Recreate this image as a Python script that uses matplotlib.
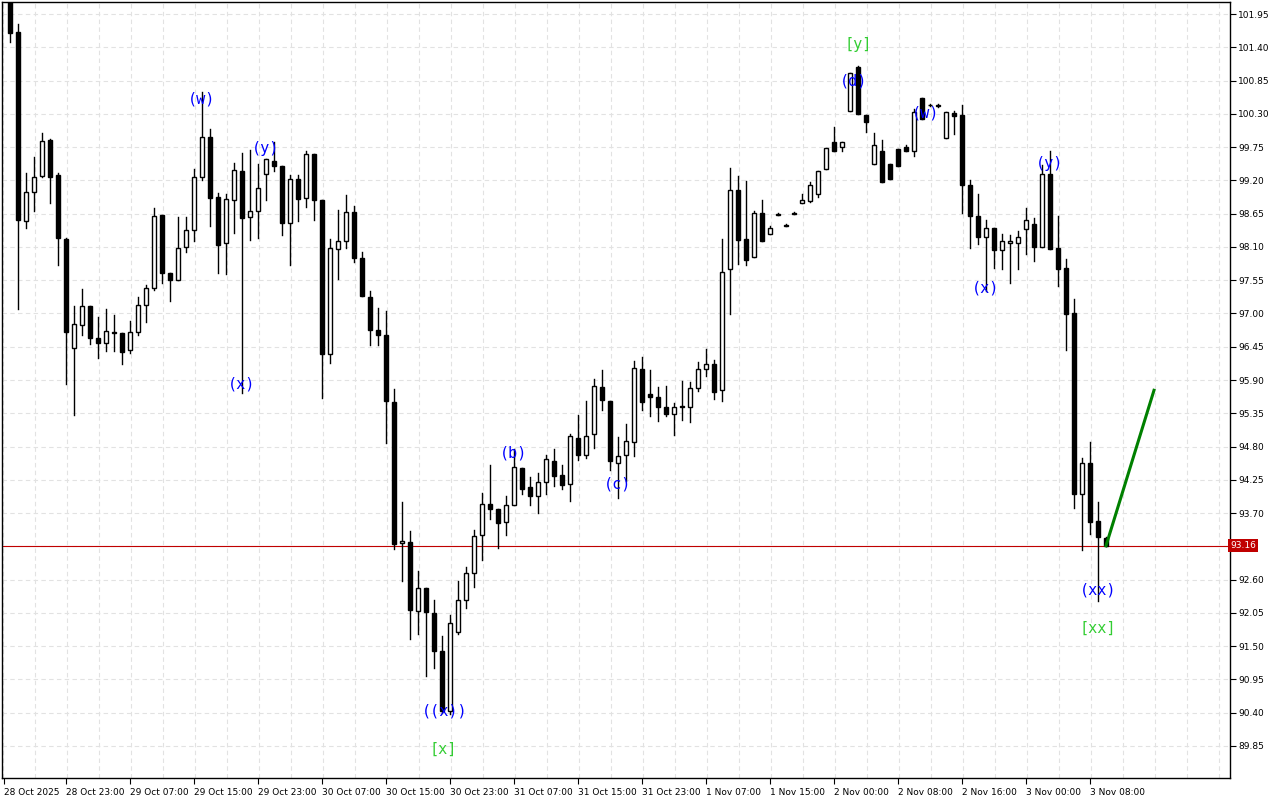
import matplotlib
matplotlib.use("Agg")
import matplotlib.pyplot as plt
import numpy as np

opens = [102.20,101.65,98.53,99.01,99.27,99.87,99.29,98.23,96.43,96.81,97.12,96.59,96.51,96.69,96.68,96.40,96.69,97.14,97.42,98.63,
         97.67,97.55,98.10,98.38,99.26,99.92,98.93,98.16,98.88,99.35,98.60,98.69,99.31,99.52,99.44,98.50,99.22,98.91,99.64,98.88,
         96.33,98.07,98.20,98.68,97.92,97.27,96.73,96.64,95.54,93.21,93.22,92.08,92.46,92.05,91.42,90.43,91.74,92.26,92.71,93.34,
         93.85,93.77,93.55,93.84,94.45,94.13,93.98,94.21,94.56,94.33,94.18,94.94,94.66,95.01,95.78,95.55,94.53,94.66,94.87,96.08,
         95.67,95.62,95.45,95.34,95.47,95.45,95.77,96.08,96.16,95.73,97.73,99.04,98.23,97.93,98.66,98.31,98.64,98.46,98.66,98.83,
         98.86,98.97,99.39,99.83,99.75,100.35,101.07,100.28,99.47,99.69,99.47,99.72,99.75,99.69,100.56,100.45,100.44,99.90,100.31,100.28,
         99.13,98.61,98.26,98.41,98.05,98.17,98.17,98.40,98.48,98.10,99.31,98.08,97.75,97.01,94.01,94.52,93.57,93.29]
closes = [101.64,98.55,99.01,99.26,99.85,99.26,98.25,96.69,96.83,97.12,96.59,96.51,96.71,96.68,96.36,96.69,97.14,97.42,98.61,97.67,
          97.55,98.08,98.38,99.26,99.92,98.91,98.13,98.89,99.37,98.58,98.69,99.07,99.55,99.44,98.50,99.22,98.89,99.64,98.88,96.33,
          98.08,98.20,98.68,97.92,97.29,96.73,96.64,95.55,93.19,93.24,92.09,92.46,92.07,91.42,90.43,91.89,92.26,92.71,93.32,93.85,
          93.77,93.54,93.84,94.46,94.10,93.98,94.21,94.59,94.31,94.17,94.97,94.66,94.97,95.80,95.57,94.56,94.64,94.89,96.10,95.54,
          95.62,95.45,95.34,95.45,95.46,95.77,96.08,96.16,95.70,97.69,99.04,98.21,97.88,98.66,98.20,98.41,98.63,98.45,98.65,98.88,
          99.12,99.35,99.73,99.69,99.83,100.97,100.30,100.17,99.78,99.17,99.22,99.44,99.69,100.33,100.21,100.44,100.43,100.33,100.26,99.13,
          98.61,98.26,98.41,98.05,98.20,98.20,98.27,98.54,98.10,99.31,98.07,97.73,96.99,94.01,94.52,93.55,93.31,93.16]
highs = [102.30,101.78,99.32,99.59,99.98,99.88,99.32,98.25,97.12,97.40,97.12,96.94,97.07,96.97,96.68,96.88,97.27,97.47,98.74,98.63,
         97.67,98.59,98.59,99.39,100.66,100.05,98.99,98.97,99.49,99.65,99.70,99.47,99.55,99.83,99.44,99.29,99.29,99.69,99.64,98.88,
         98.23,98.71,98.96,98.78,98.02,97.37,97.09,97.04,95.75,93.88,93.40,92.74,92.46,92.26,91.67,92.02,92.58,92.81,93.42,94.03,
         94.49,93.77,93.98,94.76,94.45,94.30,94.36,94.66,94.76,94.49,95.01,95.32,95.55,95.92,96.07,95.55,94.96,95.17,96.21,96.28,
         96.07,95.78,95.80,95.52,95.88,95.87,96.20,96.41,96.23,98.23,99.40,99.27,99.19,98.69,98.88,98.45,98.66,98.48,98.68,98.97,
         99.17,99.35,99.73,100.08,99.83,100.98,101.10,100.28,99.98,99.87,99.47,99.72,99.78,100.38,100.56,100.47,100.46,100.33,100.35,100.45,
         99.20,98.97,98.54,98.41,98.31,98.30,98.37,98.75,98.58,99.46,99.69,98.61,97.90,97.24,94.61,94.88,93.88,93.30]
lows = [101.49,97.07,98.41,98.69,99.26,98.83,97.80,95.83,95.32,96.64,96.50,96.26,96.38,96.38,96.16,96.35,96.64,96.86,97.39,97.50,
        97.21,97.55,98.02,98.20,99.21,98.45,97.67,97.65,98.33,95.69,98.22,98.25,98.88,99.35,98.30,97.80,98.53,98.76,98.55,95.60,
        96.18,97.57,98.08,97.85,97.29,96.48,96.48,94.86,93.11,92.58,91.61,91.70,91.01,91.14,90.40,90.38,91.70,92.13,92.48,92.92,
        93.60,93.12,93.34,93.84,94.02,93.84,93.70,94.02,94.15,94.10,93.90,94.58,94.61,94.78,95.40,94.41,93.95,94.23,94.64,95.40,
        95.30,95.22,95.30,94.99,95.24,95.21,95.72,95.97,95.59,95.55,96.99,97.82,97.80,97.93,98.20,98.31,98.63,98.45,98.65,98.83,
        98.84,98.93,99.39,99.69,99.69,100.35,100.30,100.00,99.47,99.17,99.22,99.44,99.69,99.60,100.21,100.43,100.42,99.90,99.97,98.66,
        98.09,98.15,97.37,97.76,97.73,97.50,97.73,97.98,97.87,98.10,98.07,97.45,96.39,93.78,93.09,93.35,92.25,93.16]

ytick_vals = [89.85,90.40,90.95,91.50,92.05,92.60,93.15,93.70,94.25,94.80,95.35,95.90,96.45,97.00,97.55,98.10,98.65,99.20,99.75,100.30,100.85,101.40,101.95]
xlabels = ["28 Oct 2025","28 Oct 23:00","29 Oct 07:00","29 Oct 15:00","29 Oct 23:00","30 Oct 07:00","30 Oct 15:00","30 Oct 23:00",
           "31 Oct 07:00","31 Oct 15:00","31 Oct 23:00","1 Nov 07:00","1 Nov 15:00","2 Nov 00:00","2 Nov 08:00","2 Nov 16:00",
           "3 Nov 00:00","3 Nov 08:00"]
xlabel_pos = [-0.75] + [7 + 8*k for k in range(17)]

blue_labels = ["(w)","(x)","(y)","((x))","(b)","(c)","(d)","(w)","(x)","(y)","(xx)"]
blue_pos = [(24,100.54),(29,95.83),(32,99.72),(54.3,90.43),(62.9,94.7),(76,94.18),(105.5,100.84),(114.4,100.32),(122,97.42),(130,99.48),(136,92.43)]
green_labels = ["[x]","[y]","[xx]"]
green_pos = [(54.1,89.79),(106,101.45),(136,91.80)]
last_price = 93.16
target = (143, 95.73)

fig = plt.figure(figsize=(12.8, 8), dpi=100)
ax = fig.add_axes([2/1280, 22/800, 1228/1280, 776/800])
ax.set_xlim(-1, 152.5)
ax.set_ylim(89.32, 102.15)

for yv in ytick_vals:
    ax.axhline(yv, color="#e2e2e2", lw=0.8, ls=(0, (4, 3)), zorder=0)
for xv in np.arange(-0.9, 153, 4):
    ax.axvline(xv, color="#e2e2e2", lw=0.8, ls=(0, (4, 3)), zorder=0)

w = 0.62
for i, (o, h, l, c) in enumerate(zip(opens, highs, lows, closes)):
    ax.plot([i, i], [l, h], color="black", lw=1, zorder=2)
    bottom = min(o, c); height = max(abs(c - o), 0.012)
    fc = "white" if c > o else "black"
    ax.add_patch(plt.Rectangle((i - w/2, bottom), w, height, facecolor=fc, edgecolor="black", lw=1, zorder=3))

ax.axhline(last_price, color="#c00000", lw=0.8, zorder=1)
n = len(closes) - 1
ax.plot([n, target[0]], [closes[-1], target[1]], color="#008000", lw=2.2, zorder=4)

for t, (x, y) in zip(blue_labels, blue_pos):
    ax.text(x, y, t, color="#0000ff", fontsize=11, ha="center", va="center", family="DejaVu Sans Mono", zorder=5)
for t, (x, y) in zip(green_labels, green_pos):
    ax.text(x, y, t, color="#32cd32", fontsize=11, ha="center", va="center", family="DejaVu Sans Mono", zorder=5)

ax.yaxis.tick_right()
ax.set_yticks(ytick_vals)
ax.set_yticklabels(["" if abs(v - last_price) < 0.1 else f"{v:.2f}" for v in ytick_vals], fontsize=6.5)
ax.tick_params(axis="y", direction="out", length=4, pad=2)
ax.set_xticks(xlabel_pos)
ax.set_xticklabels(xlabels, fontsize=6.5, ha="left")
ax.tick_params(axis="x", direction="out", length=4, pad=3)
for s in ax.spines.values():
    s.set_linewidth(1)
ax.text(1.0, last_price, f"{last_price:.2f}", transform=ax.get_yaxis_transform(), color="white", fontsize=6.5,
        ha="left", va="center", bbox=dict(facecolor="#c00000", edgecolor="none", pad=1.5), zorder=6)

fig.savefig("out.png", dpi=100)
